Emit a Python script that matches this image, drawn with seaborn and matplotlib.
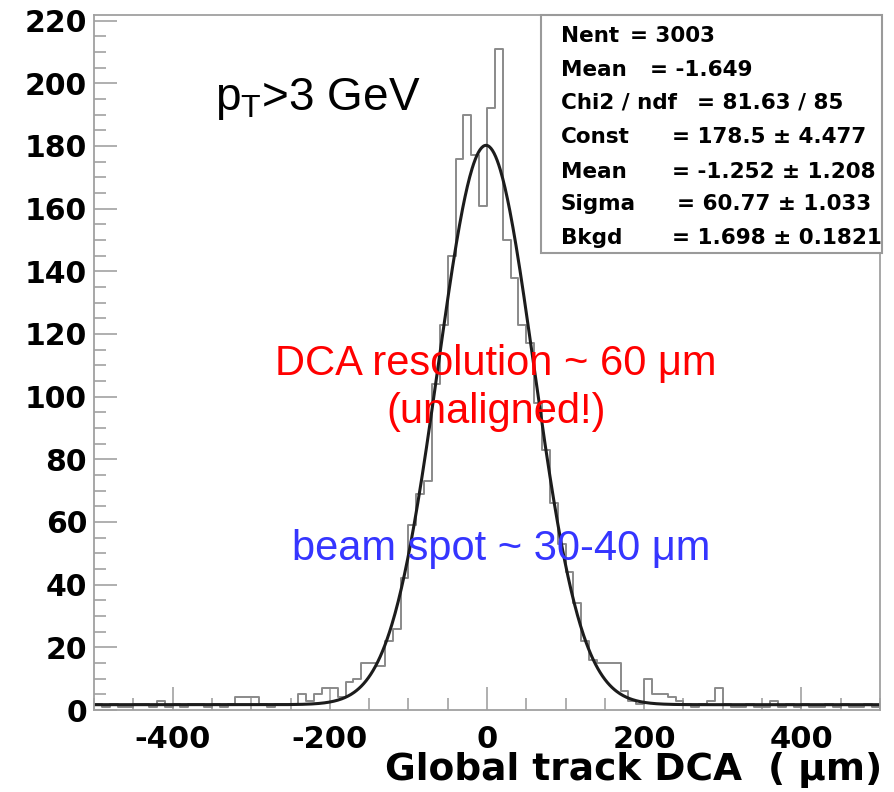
import numpy as np
import pandas as pd
import matplotlib
matplotlib.use("Agg")
import matplotlib.pyplot as plt
from matplotlib.ticker import MultipleLocator
from matplotlib.patches import Rectangle
import seaborn as sns

# Histogram of global track DCA (um), 10 um bins from -500 to 500
bin_lo, bin_hi, bin_w = -500, 500, 10
counts = [
    # -500 .. -250
    2, 1, 2, 1, 1, 2, 2, 1, 3, 1, 2, 1, 2, 2, 1, 2, 1, 2,
    4, 4, 4, 2, 1, 2, 2,
    # -250 .. 300
    2, 5, 3, 5, 7, 7, 4, 9, 10, 15, 15, 14, 22, 26, 42,
    59, 69, 73, 104, 123, 145, 176, 190, 177, 161,
    192, 211, 150, 138, 123, 117, 98, 83, 66, 53,
    44, 34, 22, 16, 15, 15, 15, 6, 3, 2,
    10, 5, 5, 4, 3, 2, 1, 2, 3, 7,
    # 300 .. 500
    2, 1, 1, 2, 1, 1, 3, 1, 2, 1, 2, 1, 1, 2, 1, 2, 1, 1, 2, 1,
]

# Gaussian + constant fit result
n_entries = 3003
hist_mean = -1.649
chi2, ndf = 81.63, 85
fit_const, fit_const_err = 178.5, 4.477
fit_mean, fit_mean_err = -1.252, 1.208
fit_sigma, fit_sigma_err = 60.77, 1.033
fit_bkgd, fit_bkgd_err = 1.698, 0.1821

x_ticks = [-400, -200, 0, 200, 400]
y_ticks = list(range(0, 221, 20))

plt.rcParams["mathtext.fontset"] = "custom"
plt.rcParams["mathtext.rm"] = "Liberation Sans"
plt.rcParams["mathtext.it"] = "Liberation Sans:italic"
plt.rcParams["axes.unicode_minus"] = False

W, H = 895, 792
fig = plt.figure(figsize=(W / 100, H / 100), dpi=100)
ax = fig.add_axes([94 / W, 1 - 710 / H, (880 - 94) / W, (710 - 15) / H])

edges = np.arange(bin_lo, bin_hi + bin_w, bin_w)
hist_df = pd.DataFrame({"dca": 0.5 * (edges[:-1] + edges[1:]),
                        "n": counts})
sns.histplot(data=hist_df, x="dca", weights="n", binwidth=bin_w,
             binrange=(bin_lo, bin_hi), element="step", fill=False,
             color="#8a8a8a", linewidth=1.4, ax=ax)

xs = np.linspace(bin_lo, bin_hi, 1001)
ys = fit_const * np.exp(-0.5 * ((xs - fit_mean) / fit_sigma) ** 2) + fit_bkgd
sns.lineplot(x=xs, y=ys, color="#1c1c1c", linewidth=2.2, ax=ax)

ax.set_xlim(bin_lo, bin_hi)
ax.set_ylim(0, 221.8)
ax.set_ylabel("")
ax.xaxis.set_minor_locator(MultipleLocator(50))
ax.yaxis.set_minor_locator(MultipleLocator(5))
ax.set_xticks(x_ticks)
ax.set_yticks(y_ticks)
ax.tick_params(which="major", direction="in", length=16.5, width=1.1,
               color="#9a9a9a")
ax.tick_params(which="minor", direction="in", length=8.5, width=1.1,
               color="#9a9a9a")
ax.tick_params(axis="y", pad=5)
ax.tick_params(axis="x", pad=11)
for lab in ax.get_xticklabels():
    lab.set_fontsize(22)
    lab.set_fontweight("bold")
    lab.set_family("DejaVu Sans")
for lab in ax.get_yticklabels():
    lab.set_fontsize(21.5)
    lab.set_fontweight("bold")
    lab.set_family("DejaVu Sans")
for sp in ax.spines.values():
    sp.set_color("#a0a0a0")
    sp.set_linewidth(1.3)

ax.set_xlabel("Global track DCA  ( \u03bcm)", loc="right", fontsize=27,
              fontweight="bold", family="DejaVu Sans")
ax.xaxis.set_label_coords(1.003, -0.061)

# Annotations
fig.text(215 / W, 1 - 110 / H, r"$\mathrm{p}_\mathrm{T}$>3 GeV",
         fontsize=33, family="Liberation Sans", color="black",
         ha="left", va="baseline")
fig.text(496 / W, 1 - 375 / H, "DCA resolution ~ 60 \u03bcm",
         fontsize=30, family="Liberation Sans", color="#ff0000",
         ha="center", va="baseline")
fig.text(496 / W, 1 - 423 / H, "(unaligned!)",
         fontsize=30, family="Liberation Sans", color="#ff0000",
         ha="center", va="baseline")
fig.text(501 / W, 1 - 560 / H, "beam spot ~ 30-40 \u03bcm",
         fontsize=30, family="Liberation Sans", color="#3535ff",
         ha="center", va="baseline")

# Statistics box
fig.patches.append(Rectangle((541 / W, 1 - 253 / H), (882 - 541) / W,
                             (253 - 15) / H, transform=fig.transFigure,
                             facecolor="white", edgecolor="#9a9a9a",
                             linewidth=1.5, zorder=5))
stat_rows = [
    ("Nent", f"= {n_entries}", 630, 36),
    ("Mean", f"= {hist_mean:.3f}", 650, 70),
    ("Chi2 / ndf", f"= {chi2:.2f} / {ndf}", 697, 103),
    ("Const", f"= {fit_const:.1f} \u00b1 {fit_const_err:.3f}", 672, 137),
    ("Mean", f"= {fit_mean:.3f} \u00b1 {fit_mean_err:.3f}", 672, 172),
    ("Sigma", f"= {fit_sigma:.2f} \u00b1 {fit_sigma_err:.3f}", 677, 204),
    ("Bkgd", f"= {fit_bkgd:.3f} \u00b1 {fit_bkgd_err:.4f}", 672, 238),
]
for name, val, xv, yc in stat_rows:
    fig.text(561 / W, 1 - yc / H, name, fontsize=15.5, fontweight="bold",
             family="DejaVu Sans", ha="left", va="center", zorder=6)
    fig.text(xv / W, 1 - yc / H, val, fontsize=15.5, fontweight="bold",
             family="DejaVu Sans", ha="left", va="center", zorder=6)

fig.savefig("out.png", dpi=100)
